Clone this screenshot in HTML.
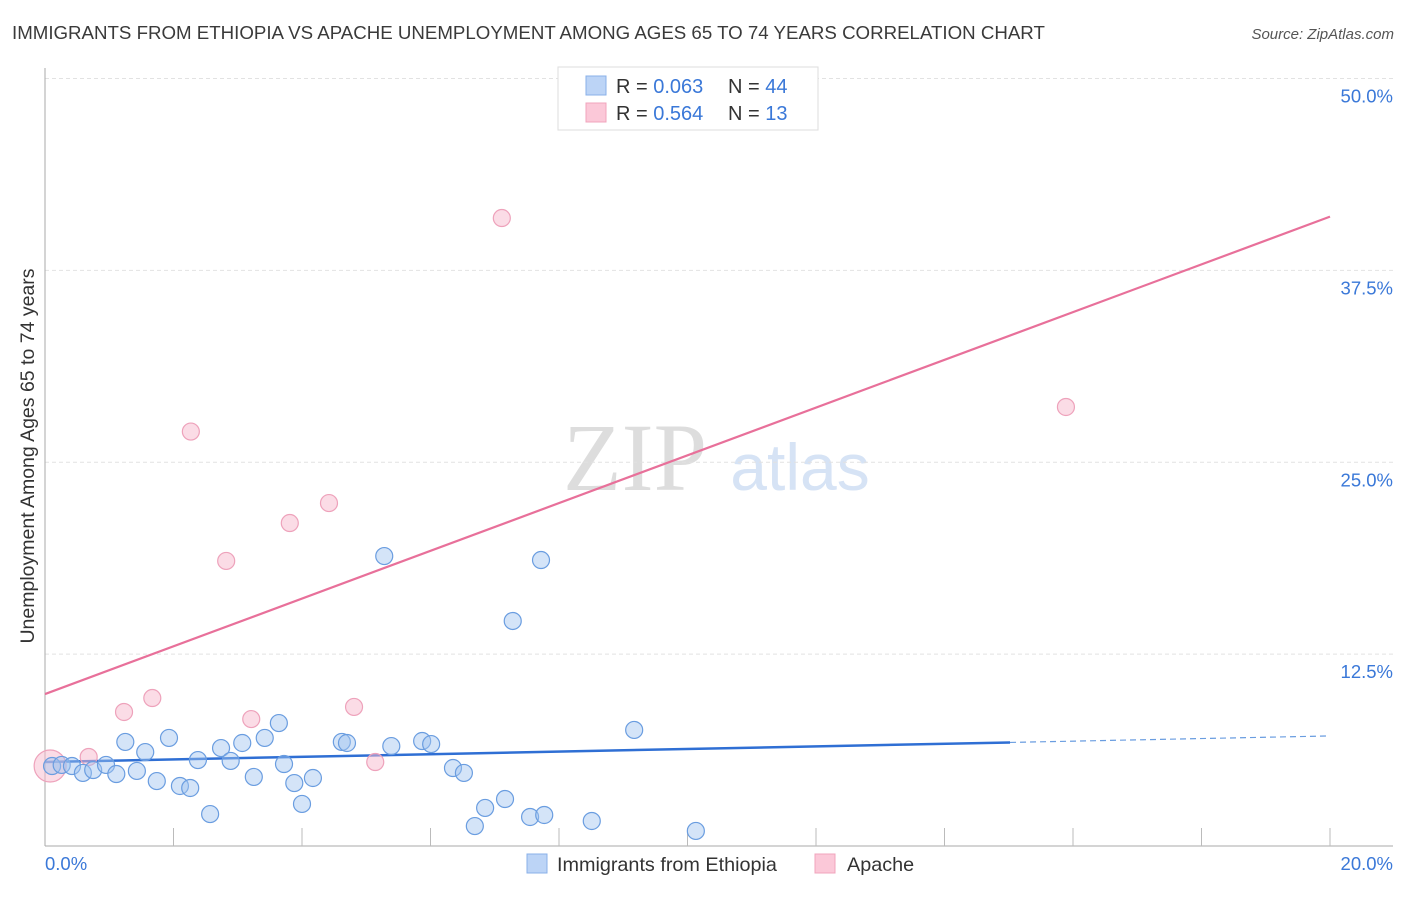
<!DOCTYPE html>
<html><head><meta charset="utf-8"><style>
body{margin:0;background:#fff;font-family:"Liberation Sans",sans-serif}
</style></head><body>
<svg width="1406" height="892" xmlns="http://www.w3.org/2000/svg" style="font-family:'Liberation Sans',sans-serif">
<text x="12" y="39" font-size="18.7" fill="#3a3a3a">IMMIGRANTS FROM ETHIOPIA VS APACHE UNEMPLOYMENT AMONG AGES 65 TO 74 YEARS CORRELATION CHART</text>
<text x="1394" y="39" font-size="15" fill="#555" font-style="italic" text-anchor="end">Source: ZipAtlas.com</text>
<text x="635" y="490" font-size="96" fill="#ddd" text-anchor="middle" font-family="Liberation Serif">ZIP</text>
<text x="800" y="490" font-size="66" fill="#d6e3f5" text-anchor="middle">atlas</text>
<g id="grid"></g><g id="axes"></g><g id="trends"></g><g id="pts"></g>
<text transform="translate(34,456) rotate(-90)" font-size="19.5" fill="#333" text-anchor="middle">Unemployment Among Ages 65 to 74 years</text>
<text x="45" y="870" font-size="18.5" fill="#3a78d8">0.0%</text>
<text x="1393" y="870" font-size="18.5" fill="#3a78d8" text-anchor="end">20.0%</text>
<g>
<rect x="558" y="67" width="260" height="63" fill="#fff" stroke="#ddd"/>
<rect x="586" y="76" width="20" height="19" fill="#bcd4f6" stroke="#8ab0e8"/>
<rect x="586" y="103" width="20" height="19" fill="#fbc8d8" stroke="#f0a4bc"/>
<text x="616" y="93" font-size="20" fill="#333">R = <tspan fill="#3a78d8">0.063</tspan><tspan x="728">N = </tspan><tspan fill="#3a78d8">44</tspan></text>
<text x="616" y="120" font-size="20" fill="#333">R = <tspan fill="#3a78d8">0.564</tspan><tspan x="728">N = </tspan><tspan fill="#3a78d8"> 13</tspan></text>
</g>
<g>
<rect x="527" y="854" width="20" height="19" fill="#bcd4f6" stroke="#8ab0e8"/>
<text x="557" y="871" font-size="19.8" fill="#333">Immigrants from Ethiopia</text>
<rect x="815" y="854" width="20" height="19" fill="#fbc8d8" stroke="#f0a4bc"/>
<text x="847" y="871" font-size="19.8" fill="#333">Apache</text>
</g>
</svg>
<script>
const yTicks=[12.5,25,37.5,50];
const blueX=[.11,.26,.42,.59,.75,.95,1.11,1.25,1.43,1.56,1.74,1.93,2.10,2.26,2.38,2.57,2.74,2.89,3.07,3.25,3.42,3.64,3.72,3.88,4.00,4.17,4.62,4.70,5.28,5.39,5.87,6.01,6.35,6.52,6.69,6.85,7.16,7.28,7.55,7.72,7.77,8.51,9.17,10.13];
const blueY=[5.21,5.28,5.21,4.76,4.95,5.28,4.69,6.78,4.89,6.12,4.23,7.04,3.91,3.78,5.60,2.08,6.38,5.54,6.71,4.50,7.04,8.01,5.34,4.10,2.74,4.43,6.78,6.71,18.89,6.51,6.84,6.64,5.08,4.76,1.30,2.48,3.06,14.66,1.89,18.63,2.02,1.63,7.56,0.98];
const pinkX=[.08,.68,1.23,1.67,2.27,2.82,3.21,3.81,4.42,4.81,5.14,7.11,15.89];
const pinkY=[5.21,5.80,8.73,9.64,27.00,18.57,8.27,21.04,22.34,9.06,5.47,40.91,28.60];
const blueTrend=[5.47,7.17];
const pinkTrend=[9.90,41.0];
const X=v=>45+v*64.25, Y=v=>846-v*15.35;
const NS="http://www.w3.org/2000/svg";
function mk(t,a,p){const e=document.createElementNS(NS,t);for(const k in a)e.setAttribute(k,a[k]);p.appendChild(e);return e;}
const grid=document.getElementById('grid'),axes=document.getElementById('axes'),tr=document.getElementById('trends'),pts=document.getElementById('pts');
yTicks.forEach(v=>{
const l=mk('line',{x1:45,x2:1393,y1:Y(v),y2:Y(v),stroke:'#e2e2e2','stroke-dasharray':'4,3'},grid);


const t=mk('text',{x:1393,y:Y(v)+24,'font-size':18.5,fill:'#3a78d8','text-anchor':'end'},grid);
t.textContent=v.toFixed(1)+'%';


});
mk('line',{x1:45,x2:45,y1:68,y2:846,stroke:'#aaa'},axes);
mk('line',{x1:45,x2:1393,y1:846,y2:846,stroke:'#aaa'},axes);
for(let i=1;i<=10;i++){const l=mk('line',{x1:X(i*2),x2:X(i*2),y1:828,y2:846,stroke:'#bbb'},axes);

}
const bl=mk('line',{x1:X(0),y1:Y(blueTrend[0]),x2:X(15.02),y2:Y(blueTrend[0]+(blueTrend[1]-blueTrend[0])*15.02/20),stroke:'#2f6fd4','stroke-width':2.5},tr);


const bd=mk('line',{x1:X(15.02),y1:Y(blueTrend[0]+(blueTrend[1]-blueTrend[0])*15.02/20),x2:X(20),y2:Y(blueTrend[1]),stroke:'#6a9de0','stroke-width':1.2,'stroke-dasharray':'6,4'},tr);


const pl=mk('line',{x1:X(0),y1:Y(pinkTrend[0]),x2:X(20),y2:Y(pinkTrend[1]),stroke:'#e8709a','stroke-width':2.2},tr);


pinkX.forEach((x,i)=>{
const c=mk('circle',{cx:X(x),cy:Y(pinkY[i]),r:i==0?16:8.5,fill:'rgba(248,186,206,0.5)',stroke:'#eea2bb','stroke-width':1.2},pts);


});
blueX.forEach((x,i)=>{
const c=mk('circle',{cx:X(x),cy:Y(blueY[i]),r:8.5,fill:'rgba(160,196,240,0.45)',stroke:'#6a9de0','stroke-width':1.2},pts);


});
</script>
</body></html>
